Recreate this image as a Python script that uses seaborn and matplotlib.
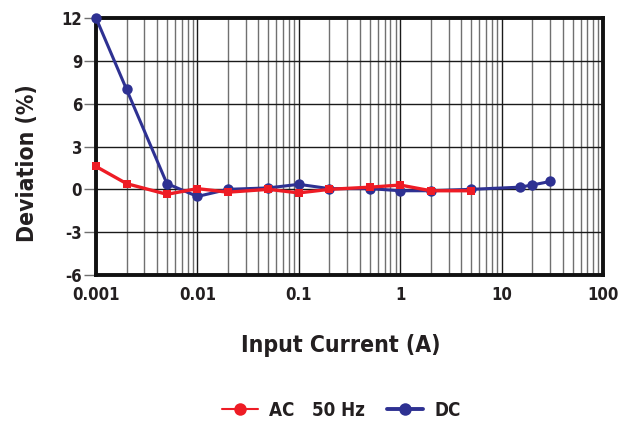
import matplotlib
matplotlib.use('Agg')
import matplotlib.pyplot as plt
from matplotlib.lines import Line2D
import seaborn as sns
import pandas as pd

# Data
dc_current = [0.001, 0.002, 0.005, 0.01, 0.02, 0.05, 0.1, 0.2, 0.5, 1, 2, 5, 15, 20, 30]
dc_dev = [12.0, 7.0, 0.4, -0.5, 0.0, 0.1, 0.35, 0.05, 0.05, -0.1, -0.1, 0.0, 0.15, 0.3, 0.55]
ac_current = [0.001, 0.002, 0.005, 0.01, 0.02, 0.05, 0.1, 0.2, 0.5, 1, 2, 5]
ac_dev = [1.6, 0.4, -0.35, 0.05, -0.2, 0.0, -0.25, 0.0, 0.15, 0.3, -0.1, -0.1]

x_ticks = [0.001, 0.01, 0.1, 1, 10, 100]
x_labels = ['0.001', '0.01', '0.1', '1', '10', '100']
y_ticks = [-6, -3, 0, 3, 6, 9, 12]

red = '#ee1c25'
blue = '#2e3192'
ink = '#231f20'

sns.set_style('white')
plt.rcParams['font.family'] = ['Liberation Sans Narrow', 'DejaVu Sans']
plt.rcParams['font.stretch'] = 'condensed'
plt.rcParams['font.weight'] = 'bold'
plt.rcParams['axes.unicode_minus'] = False
plt.rcParams['text.color'] = ink
plt.rcParams['xtick.color'] = ink
plt.rcParams['ytick.color'] = ink
plt.rcParams['axes.labelcolor'] = ink

df_ac = pd.DataFrame({'I': ac_current, 'D': ac_dev})
df_dc = pd.DataFrame({'I': dc_current, 'D': dc_dev})

fig = plt.figure(figsize=(6.26, 4.26), dpi=100)
ax = fig.add_axes([0.1534, 0.3545, 0.81, 0.6032])
ax.set_xscale('log')

# grid
ax.grid(True, which='major', axis='both', color='#1a1a1a', lw=1.0)
ax.grid(True, which='minor', axis='x', color='#707070', lw=1.0)
ax.set_axisbelow(True)

sns.lineplot(data=df_dc, x='I', y='D', ax=ax, color=blue, lw=2.2, marker='o',
             markersize=7.5, markeredgewidth=0, label='DC', zorder=5)
sns.lineplot(data=df_ac, x='I', y='D', ax=ax, color=red, lw=2.4, marker='s',
             markersize=5.5, markeredgewidth=0, label='AC   50 Hz', zorder=6)
for ln in ax.lines:
    ln.set_clip_on(False)

ax.set_xlim(0.001, 100)
ax.set_ylim(-6, 12)
ax.set_xticks(x_ticks)
ax.set_xticklabels(x_labels)
ax.set_yticks(y_ticks)
ax.tick_params(axis='x', which='both', length=0, labelsize=12, pad=8)
ax.tick_params(axis='y', which='both', length=9, width=1, color='#707070',
               labelsize=12, pad=1, left=True)
for lab in ax.get_xticklabels() + ax.get_yticklabels():
    lab.set_fontweight('bold')

for s in ax.spines.values():
    s.set_visible(True)
    s.set_color('#111111')
    s.set_linewidth(2.8)
    s.set_zorder(4)

ax.set_xlabel('Input Current (A)', fontsize=16.5, fontweight='bold')
ax.set_ylabel('Deviation (%)', fontsize=16.5, fontweight='bold')
ax.xaxis.set_label_coords(0.482, -0.228)
ax.yaxis.set_label_coords(-0.112, 0.436)

handles = [Line2D([], [], color=red, lw=1.5, marker='o', markersize=9, markeredgewidth=0),
           Line2D([], [], color=blue, lw=2.8, marker='o', markersize=9, markeredgewidth=0)]
ax.get_legend().remove()
fig.legend(handles, ['AC   50 Hz', 'DC'], loc='center', bbox_to_anchor=(0.545, 0.037),
           ncol=2, frameon=False, prop={'size': 13.5, 'weight': 'bold'},
           handlelength=1.9, columnspacing=1.2, handletextpad=0.6)

fig.savefig('out.png', dpi=100)
